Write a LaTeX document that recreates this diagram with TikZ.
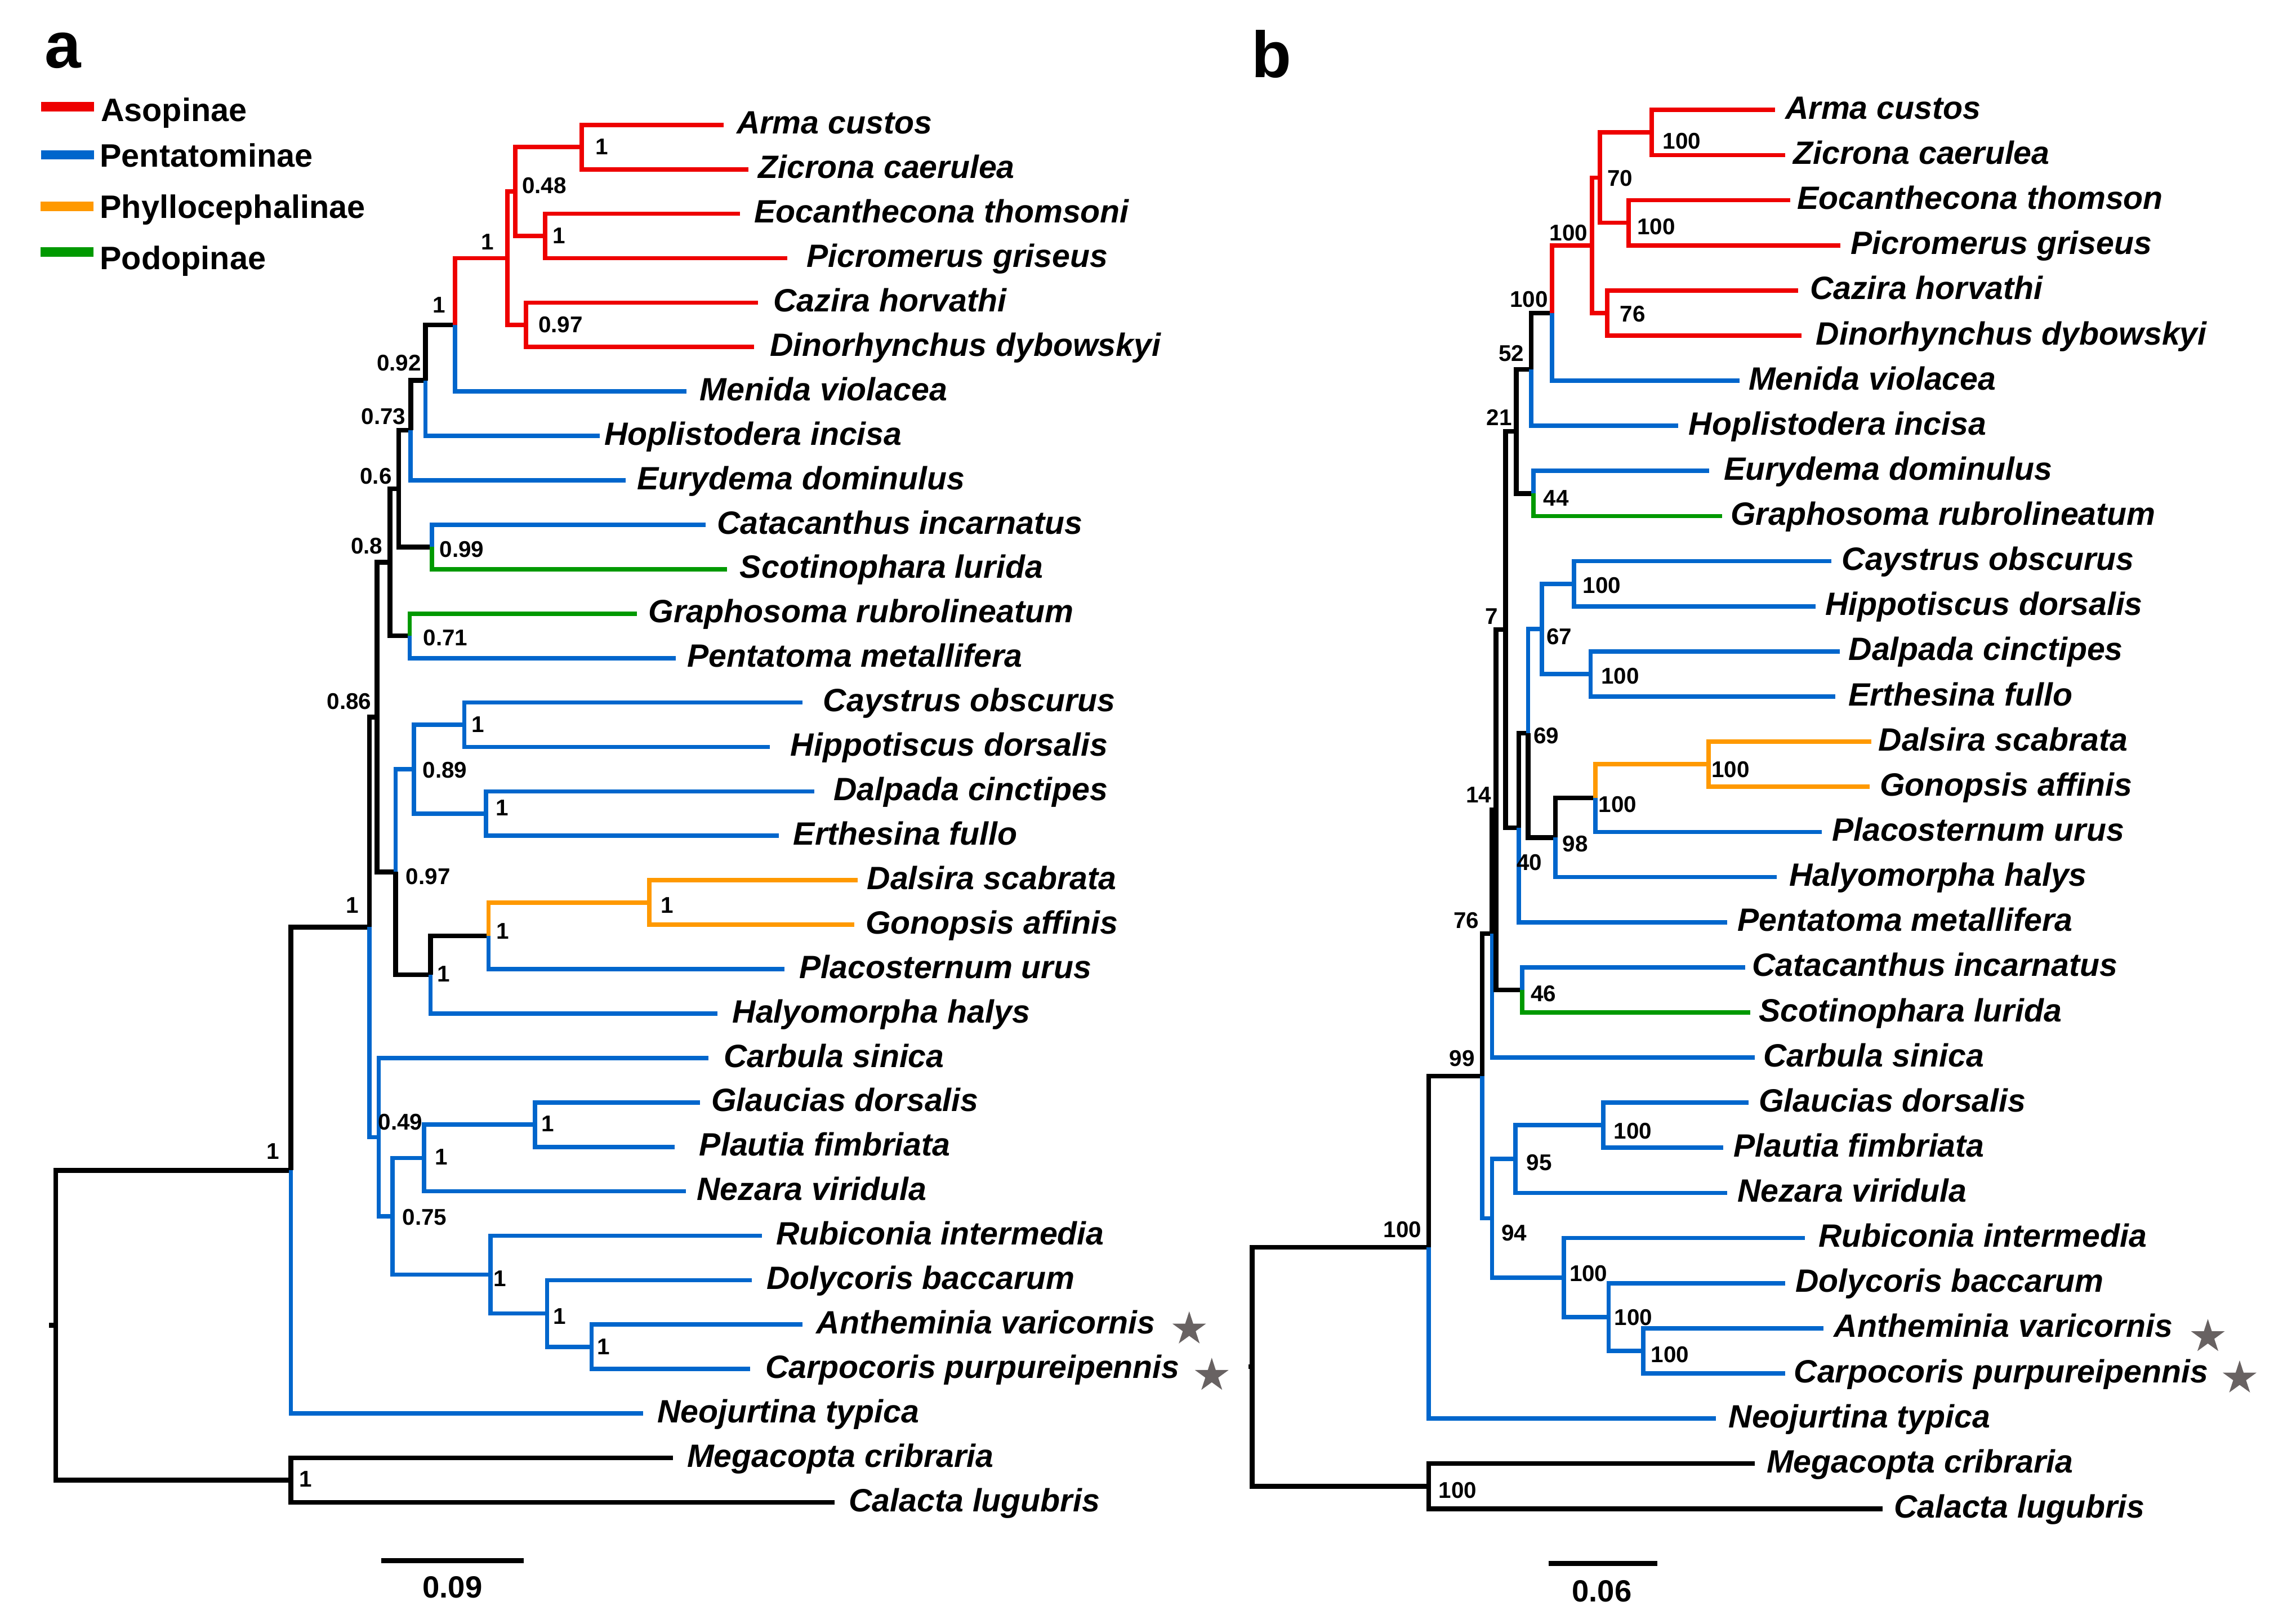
\documentclass[tikz,border=0pt]{standalone}
\usepackage{fontspec}
\setmainfont{Liberation Sans}
\usetikzlibrary{calc,shapes.geometric}
\definecolor{cRed}{RGB}{238,0,0}
\definecolor{cBlu}{RGB}{0,102,204}
\definecolor{cOrg}{RGB}{255,153,0}
\definecolor{cGrn}{RGB}{0,153,0}
\definecolor{cStar}{RGB}{104,98,98}
\tikzset{
  brK/.style={draw=black,line width=2.4pt},
  brR/.style={draw=cRed,line width=2.2pt},
  brB/.style={draw=cBlu,line width=2.2pt},
  brO/.style={draw=cOrg,line width=2.2pt},
  brG/.style={draw=cGrn,line width=2.2pt},
  leaflab/.style={font=\fontsize{16.3}{19}\selectfont\bfseries\itshape,inner sep=0pt,anchor=base west},
  bsvlab/.style={font=\fontsize{11.5}{13}\selectfont\bfseries,inner sep=0pt,anchor=base},
  legtxt/.style={font=\fontsize{16.4}{19}\selectfont\bfseries,inner sep=0pt,anchor=base west},
  legbar/.style={line width=0.167cm},
  panellab/.style={font=\fontsize{33}{38}\selectfont\bfseries,inner sep=0pt,anchor=base west},
  scaletxt/.style={font=\fontsize{15.5}{18}\selectfont\bfseries,inner sep=0pt,anchor=base},
  scalebar/.style={draw=black,line width=2.7pt},
  starmark/.style={star,star points=5,star point ratio=2.618,fill=cStar,draw=none,inner sep=0pt,minimum size=0.63cm}
}
\newcommand{\inod}[4]{\coordinate (tmpm) at ($(#2)!0.5!(#3)$);\coordinate (tmpx) at (#4,0);\coordinate (#1) at (tmpm -| tmpx);}
\newcommand{\aleaf}[5]{\coordinate (#1) at (#3,{85.3+30.35*#2});\node[leaflab] (#1t) at (#4,{85.3+30.35*#2+6.2}) {#5};}
\newcommand{\bleaf}[5]{\coordinate (#1) at (#3,{75.1+30.82*#2});\node[leaflab] (#1t) at (#4,{75.1+30.82*#2+6.2}) {#5};}
\newcommand{\tbr}[3]{\draw[#1] (#2) |- (#3);}
\newcommand{\bsv}[4]{\node[bsvlab] (#1) at (#2,{#3+5.6}) {#4};}
\begin{document}
\begin{tikzpicture}[x=0.026cm,y=-0.026cm]
\useasboundingbox (0,0) rectangle (1559.23,1109.23);
\fill[white] (0,0) rectangle (1559.23,1109.23);

% panel letters
\node[panellab] (pa) at (30.2,46.5) {a};
\node[panellab] (pb) at (854.4,53) {b};

% legend
\draw[legbar,cRed] (28,72.8) -- (64.1,72.8);
\draw[legbar,cBlu] (28,105.8) -- (64.1,105.8);
\draw[legbar,cOrg] (27.7,141) -- (63.8,141);
\draw[legbar,cGrn] (27.7,172.2) -- (63.8,172.2);
\node[legtxt] (lg1) at (68.6,82.8) {Asopinae};
\node[legtxt] (lg2) at (68.0,114.2) {Pentatominae};
\node[legtxt] (lg3) at (68.0,149) {Phyllocephalinae};
\node[legtxt] (lg4) at (68.0,184) {Podopinae};

% ================= panel a =================
\aleaf{a0}{0}{494.4}{502.9}{Arma custos}
\aleaf{a1}{1}{511}{517.6}{Zicrona caerulea}
\aleaf{a2}{2}{505.4}{515}{Eocanthecona thomsoni}
\aleaf{a3}{3}{537.8}{550.7}{Picromerus griseus}
\aleaf{a4}{4}{517.6}{527.9}{Cazira horvathi}
\aleaf{a5}{5}{515}{525.7}{Dinorhynchus dybowskyi}
\aleaf{a6}{6}{469}{477.8}{Menida violacea}
\aleaf{a7}{7}{409.8}{412.5}{Hoplistodera incisa}
\aleaf{a8}{8}{427.4}{434.8}{Eurydema dominulus}
\aleaf{a9}{9}{482}{489.4}{Catacanthus incarnatus}
\aleaf{a10}{10}{496.5}{505.1}{Scotinophara lurida}
\aleaf{a11}{11}{434.9}{442.7}{Graphosoma rubrolineatum}
\aleaf{a12}{12}{461.5}{469}{Pentatoma metallifera}
\aleaf{a13}{13}{547.9}{562}{Caystrus obscurus}
\aleaf{a14}{14}{525.9}{539.7}{Hippotiscus dorsalis}
\aleaf{a15}{15}{556.2}{569.1}{Dalpada cinctipes}
\aleaf{a16}{16}{531.8}{541.6}{Erthesina fullo}
\aleaf{a17}{17}{585.6}{591.9}{Dalsira scabrata}
\aleaf{a18}{18}{583.6}{591}{Gonopsis affinis}
\aleaf{a19}{19}{535.7}{545.6}{Placosternum urus}
\aleaf{a20}{20}{490}{500}{Halyomorpha halys}
\aleaf{a21}{21}{484}{494}{Carbula sinica}
\aleaf{a22}{22}{478}{485.6}{Glaucias dorsalis}
\aleaf{a23}{23}{460.8}{477.4}{Plautia fimbriata}
\aleaf{a24}{24}{468.5}{475.7}{Nezara viridula}
\aleaf{a25}{25}{520.4}{529.8}{Rubiconia intermedia}
\aleaf{a26}{26}{513.3}{523.2}{Dolycoris baccarum}
\aleaf{a27}{27}{548}{557.4}{Antheminia varicornis}
\aleaf{a28}{28}{512.2}{522.6}{Carpocoris purpureipennis}
\aleaf{a29}{29}{439.3}{448.7}{Neojurtina typica}
\aleaf{a30}{30}{459.7}{469}{Megacopta cribraria}
\aleaf{a31}{31}{570}{579.5}{Calacta lugubris}

\inod{aAZ}{a0}{a1}{397.3}
\inod{aEP}{a2}{a3}{372.2}
\inod{aJ}{aAZ}{aEP}{352}
\inod{aCD}{a4}{a5}{359.3}
\inod{aAs}{aJ}{aCD}{346.5}
\inod{aI}{aAs}{a6}{310.8}
\inod{aH}{aI}{a7}{290.6}
\inod{aG}{aH}{a8}{280.5}
\inod{aCS}{a9}{a10}{295}
\inod{aF}{aG}{aCS}{272.4}
\inod{aGP}{a11}{a12}{279.8}
\inod{aD}{aF}{aGP}{266.4}
\inod{aCH}{a13}{a14}{317.1}
\inod{aDE}{a15}{a16}{332}
\inod{aK}{aCH}{aDE}{282.7}
\inod{aDG}{a17}{a18}{443.5}
\inod{aM}{aDG}{a19}{333.6}
\inod{aL}{aM}{a20}{294}
\inod{aE}{aK}{aL}{270.2}
\inod{aB}{aD}{aE}{257.5}
\inod{aQ}{a22}{a23}{365.3}
\inod{aO}{aQ}{a24}{289.5}
\inod{aS}{a27}{a28}{404}
\inod{aR}{a26}{aS}{373.6}
\inod{aP}{a25}{aR}{335}
\inod{aN}{aO}{aP}{268.2}
\inod{aC}{a21}{aN}{258.6}
\inod{aA}{aB}{aC}{252.3}
\inod{aIn}{aA}{a29}{198.7}
\inod{aOut}{a30}{a31}{198.7}
\inod{aRoot}{aIn}{aOut}{38}
\coordinate (aTick) at ($(aRoot)+(-4.5,0)$);

\draw[brK] (aTick) -- (aRoot);
\tbr{brK}{aRoot}{aIn} \tbr{brK}{aRoot}{aOut}
\tbr{brK}{aOut}{a30} \tbr{brK}{aOut}{a31}
\tbr{brK}{aIn}{aA} \tbr{brB}{aIn}{a29}
\tbr{brK}{aA}{aB} \tbr{brB}{aA}{aC}
\tbr{brK}{aB}{aD} \tbr{brK}{aB}{aE}
\tbr{brK}{aD}{aF} \tbr{brK}{aD}{aGP}
\tbr{brK}{aF}{aG} \tbr{brK}{aF}{aCS}
\tbr{brK}{aG}{aH} \tbr{brB}{aG}{a8}
\tbr{brK}{aH}{aI} \tbr{brB}{aH}{a7}
\tbr{brR}{aI}{aAs} \tbr{brB}{aI}{a6}
\tbr{brR}{aAs}{aJ} \tbr{brR}{aAs}{aCD}
\tbr{brR}{aJ}{aAZ} \tbr{brR}{aJ}{aEP}
\tbr{brR}{aAZ}{a0} \tbr{brR}{aAZ}{a1}
\tbr{brR}{aEP}{a2} \tbr{brR}{aEP}{a3}
\tbr{brR}{aCD}{a4} \tbr{brR}{aCD}{a5}
\tbr{brB}{aCS}{a9} \tbr{brG}{aCS}{a10}
\tbr{brG}{aGP}{a11} \tbr{brB}{aGP}{a12}
\tbr{brB}{aE}{aK} \tbr{brK}{aE}{aL}
\tbr{brB}{aK}{aCH} \tbr{brB}{aK}{aDE}
\tbr{brB}{aCH}{a13} \tbr{brB}{aCH}{a14}
\tbr{brB}{aDE}{a15} \tbr{brB}{aDE}{a16}
\tbr{brK}{aL}{aM} \tbr{brB}{aL}{a20}
\tbr{brO}{aM}{aDG} \tbr{brB}{aM}{a19}
\tbr{brO}{aDG}{a17} \tbr{brO}{aDG}{a18}
\tbr{brB}{aC}{a21} \tbr{brB}{aC}{aN}
\tbr{brB}{aN}{aO} \tbr{brB}{aN}{aP}
\tbr{brB}{aO}{aQ} \tbr{brB}{aO}{a24}
\tbr{brB}{aQ}{a22} \tbr{brB}{aQ}{a23}
\tbr{brB}{aP}{a25} \tbr{brB}{aP}{aR}
\tbr{brB}{aR}{a26} \tbr{brB}{aR}{aS}
\tbr{brB}{aS}{a27} \tbr{brB}{aS}{a28}

\bsv{aAZl}{411}{100}{1}
\bsv{aJl}{371.7}{126.7}{0.48}
\bsv{aEPl}{382}{160.7}{1}
\bsv{aAsl}{333}{164.8}{1}
\bsv{aCDl}{382.9}{221.4}{0.97}
\bsv{aIl}{299.9}{208}{1}
\bsv{aHl}{272.5}{247.6}{0.92}
\bsv{aGl}{261.9}{284.1}{0.73}
\bsv{aFl}{256.7}{325}{0.6}
\bsv{aDl}{250.5}{372.5}{0.8}
\bsv{aCSl}{315.4}{375.1}{0.99}
\bsv{aGPl}{304.2}{435.2}{0.71}
\bsv{aBl}{238.5}{478.8}{0.86}
\bsv{aCHl}{326.4}{494.7}{1}
\bsv{aKl}{303.8}{525.9}{0.89}
\bsv{aDEl}{343}{551.7}{1}
\bsv{aEl}{292.4}{598.3}{0.97}
\bsv{aDGl}{455.8}{618}{1}
\bsv{aAl}{240.8}{618}{1}
\bsv{aMl}{343.5}{635.6}{1}
\bsv{aLl}{302.8}{664.8}{1}
\bsv{aCl}{273.5}{766.1}{0.49}
\bsv{aQl}{374.2}{767.4}{1}
\bsv{aOl}{301.3}{789.8}{1}
\bsv{aInl}{186.3}{786}{1}
\bsv{aNl}{290}{831.2}{0.75}
\bsv{aPl}{341.4}{873.2}{1}
\bsv{aRl}{382.2}{899}{1}
\bsv{aSl}{412.3}{919.4}{1}
\bsv{aOutl}{208.9}{1010}{1}

\node[starmark] (aStar1) at (812.2,907.8) {};
\node[starmark] (aStar2) at (827.6,939.5) {};

\coordinate (aSb1) at (260.5,1065.9);
\coordinate (aSb2) at (357.6,1065.9);
\draw[scalebar] (aSb1) -- (aSb2);
\node[scaletxt] (aSbt) at (309,1091.3) {0.09};

% ================= panel b =================
\bleaf{b0}{0}{1212.3}{1219.1}{Arma custos}
\bleaf{b1}{1}{1219.1}{1224.5}{Zicrona caerulea}
\bleaf{b2}{2}{1222.7}{1227.3}{Eocanthecona thomson}
\bleaf{b3}{3}{1256.8}{1263.6}{Picromerus griseus}
\bleaf{b4}{4}{1228.2}{1235.9}{Cazira horvathi}
\bleaf{b5}{5}{1230.4}{1240}{Dinorhynchus dybowskyi}
\bleaf{b6}{6}{1188.1}{1194}{Menida violacea}
\bleaf{b7}{7}{1146.3}{1153.1}{Hoplistodera incisa}
\bleaf{b8}{8}{1167.2}{1177.2}{Eurydema dominulus}
\bleaf{b9}{9}{1176.3}{1181.8}{Graphosoma rubrolineatum}
\bleaf{b10}{10}{1250.9}{1257.7}{Caystrus obscurus}
\bleaf{b11}{11}{1240}{1246.4}{Hippotiscus dorsalis}
\bleaf{b12}{12}{1256.4}{1262.3}{Dalpada cinctipes}
\bleaf{b13}{13}{1253.6}{1262.3}{Erthesina fullo}
\bleaf{b14}{14}{1278.2}{1282.7}{Dalsira scabrata}
\bleaf{b15}{15}{1276.8}{1283.6}{Gonopsis affinis}
\bleaf{b16}{16}{1244.1}{1250.9}{Placosternum urus}
\bleaf{b17}{17}{1213.6}{1221.8}{Halyomorpha halys}
\bleaf{b18}{18}{1179.5}{1186.3}{Pentatoma metallifera}
\bleaf{b19}{19}{1191.8}{1196.3}{Catacanthus incarnatus}
\bleaf{b20}{20}{1195.4}{1200.9}{Scotinophara lurida}
\bleaf{b21}{21}{1198.6}{1204.1}{Carbula sinica}
\bleaf{b22}{22}{1194.1}{1200.9}{Glaucias dorsalis}
\bleaf{b23}{23}{1176.8}{1183.6}{Plautia fimbriata}
\bleaf{b24}{24}{1179.5}{1186.3}{Nezara viridula}
\bleaf{b25}{25}{1232.7}{1241.8}{Rubiconia intermedia}
\bleaf{b26}{26}{1219.1}{1225.9}{Dolycoris baccarum}
\bleaf{b27}{27}{1245.4}{1252.3}{Antheminia varicornis}
\bleaf{b28}{28}{1219.1}{1225}{Carpocoris purpureipennis}
\bleaf{b29}{29}{1171.8}{1180.4}{Neojurtina typica}
\bleaf{b30}{30}{1198.6}{1206.3}{Megacopta cribraria}
\bleaf{b31}{31}{1285.9}{1293.2}{Calacta lugubris}

\inod{bAZ}{b0}{b1}{1128.1}
\inod{bEP}{b2}{b3}{1112.2}
\inod{bJ}{bAZ}{bEP}{1092.6}
\inod{bCD}{b4}{b5}{1097.6}
\inod{bAs}{bJ}{bCD}{1087.2}
\inod{bI}{bAs}{b6}{1059.9}
\inod{bH}{bI}{b7}{1045.7}
\inod{bED}{b8}{b9}{1047.2}
\inod{bG}{bH}{bED}{1035.6}
\inod{bCH}{b10}{b11}{1074.9}
\inod{bDE}{b12}{b13}{1086.3}
\inod{bL}{bCH}{bDE}{1053.1}
\inod{bDG}{b14}{b15}{1166.8}
\inod{bN}{bDG}{b16}{1089.5}
\inod{bM}{bN}{b17}{1062.2}
\inod{bK}{bL}{bM}{1043.6}
\inod{bF}{bK}{b18}{1037.2}
\inod{bE}{bG}{bF}{1028.2}
\inod{bCS}{b19}{b20}{1039.7}
\inod{bD}{bE}{bCS}{1021.8}
\inod{bB}{bD}{b21}{1019}
\inod{bGP}{b22}{b23}{1094.9}
\inod{bGPN}{bGP}{b24}{1034.9}
\inod{bAC}{b27}{b28}{1122.2}
\inod{bDAC}{b26}{bAC}{1098.6}
\inod{bRDAC}{b25}{bDAC}{1068.1}
\inod{bC}{bGPN}{bRDAC}{1019}
\inod{bA}{bB}{bC}{1012.2}
\inod{bIn}{bA}{b29}{975.8}
\inod{bOut}{b30}{b31}{975.8}
\inod{bRoot}{bIn}{bOut}{855.2}
\coordinate (bTick) at ($(bRoot)+(-2.7,0)$);

\draw[brK] (bTick) -- (bRoot);
\tbr{brK}{bRoot}{bIn} \tbr{brK}{bRoot}{bOut}
\tbr{brK}{bOut}{b30} \tbr{brK}{bOut}{b31}
\tbr{brK}{bIn}{bA} \tbr{brB}{bIn}{b29}
\tbr{brK}{bA}{bB} \tbr{brB}{bA}{bC}
\tbr{brK}{bB}{bD} \tbr{brB}{bB}{b21}
\tbr{brK}{bD}{bE} \tbr{brK}{bD}{bCS}
\tbr{brB}{bCS}{b19} \tbr{brG}{bCS}{b20}
\tbr{brK}{bE}{bG} \tbr{brK}{bE}{bF}
\tbr{brK}{bG}{bH} \tbr{brK}{bG}{bED}
\tbr{brB}{bED}{b8} \tbr{brG}{bED}{b9}
\tbr{brK}{bH}{bI} \tbr{brB}{bH}{b7}
\tbr{brR}{bI}{bAs} \tbr{brB}{bI}{b6}
\tbr{brR}{bAs}{bJ} \tbr{brR}{bAs}{bCD}
\tbr{brR}{bJ}{bAZ} \tbr{brR}{bJ}{bEP}
\tbr{brR}{bAZ}{b0} \tbr{brR}{bAZ}{b1}
\tbr{brR}{bEP}{b2} \tbr{brR}{bEP}{b3}
\tbr{brR}{bCD}{b4} \tbr{brR}{bCD}{b5}
\tbr{brK}{bF}{bK} \tbr{brB}{bF}{b18}
\tbr{brB}{bK}{bL} \tbr{brK}{bK}{bM}
\tbr{brB}{bL}{bCH} \tbr{brB}{bL}{bDE}
\tbr{brB}{bCH}{b10} \tbr{brB}{bCH}{b11}
\tbr{brB}{bDE}{b12} \tbr{brB}{bDE}{b13}
\tbr{brK}{bM}{bN} \tbr{brB}{bM}{b17}
\tbr{brO}{bN}{bDG} \tbr{brB}{bN}{b16}
\tbr{brO}{bDG}{b14} \tbr{brO}{bDG}{b15}
\tbr{brB}{bC}{bGPN} \tbr{brB}{bC}{bRDAC}
\tbr{brB}{bGPN}{bGP} \tbr{brB}{bGPN}{b24}
\tbr{brB}{bGP}{b22} \tbr{brB}{bGP}{b23}
\tbr{brB}{bRDAC}{b25} \tbr{brB}{bRDAC}{bDAC}
\tbr{brB}{bDAC}{b26} \tbr{brB}{bDAC}{bAC}
\tbr{brB}{bAC}{b27} \tbr{brB}{bAC}{b28}

\bsv{bAZl}{1148.6}{96}{100}
\bsv{bJl}{1106.5}{121.4}{70}
\bsv{bEPl}{1131.1}{154.5}{100}
\bsv{bAsl}{1071.3}{159}{100}
\bsv{bIl}{1044.2}{204.2}{100}
\bsv{bCDl}{1115}{214.1}{76}
\bsv{bHl}{1032.1}{241}{52}
\bsv{bGl}{1024}{285}{21}
\bsv{bEDl}{1062.8}{340}{44}
\bsv{bCHl}{1094}{399.6}{100}
\bsv{bEl}{1018.9}{420.6}{7}
\bsv{bLl}{1064.9}{434.5}{67}
\bsv{bDEl}{1106.5}{461.4}{100}
\bsv{bKl}{1056}{502.3}{69}
\bsv{bDGl}{1182}{525.2}{100}
\bsv{bDl}{1009.9}{542.7}{14}
\bsv{bNl}{1104.7}{549.3}{100}
\bsv{bMl}{1075.8}{576}{98}
\bsv{bFl}{1044.6}{588.7}{40}
\bsv{bBl}{1001.5}{628.5}{76}
\bsv{bCSl}{1054.2}{678.5}{46}
\bsv{bAl}{998.5}{722.8}{99}
\bsv{bGPl}{1115.1}{772.3}{100}
\bsv{bGPNl}{1051.2}{794}{95}
\bsv{bCl}{1034.2}{841.8}{94}
\bsv{bInl}{957.8}{839.4}{100}
\bsv{bRDACl}{1084.9}{869.6}{100}
\bsv{bDACl}{1115.6}{899.7}{100}
\bsv{bACl}{1140.6}{925.1}{100}
\bsv{bOutl}{995.5}{1017.5}{100}

\node[starmark] (bStar1) at (1507.9,913) {};
\node[starmark] (bStar2) at (1529.6,941.3) {};

\coordinate (bSb1) at (1057.6,1067.9);
\coordinate (bSb2) at (1131.8,1067.9);
\draw[scalebar] (bSb1) -- (bSb2);
\node[scaletxt] (bSbt) at (1094,1094) {0.06};
\end{tikzpicture}
\end{document}
